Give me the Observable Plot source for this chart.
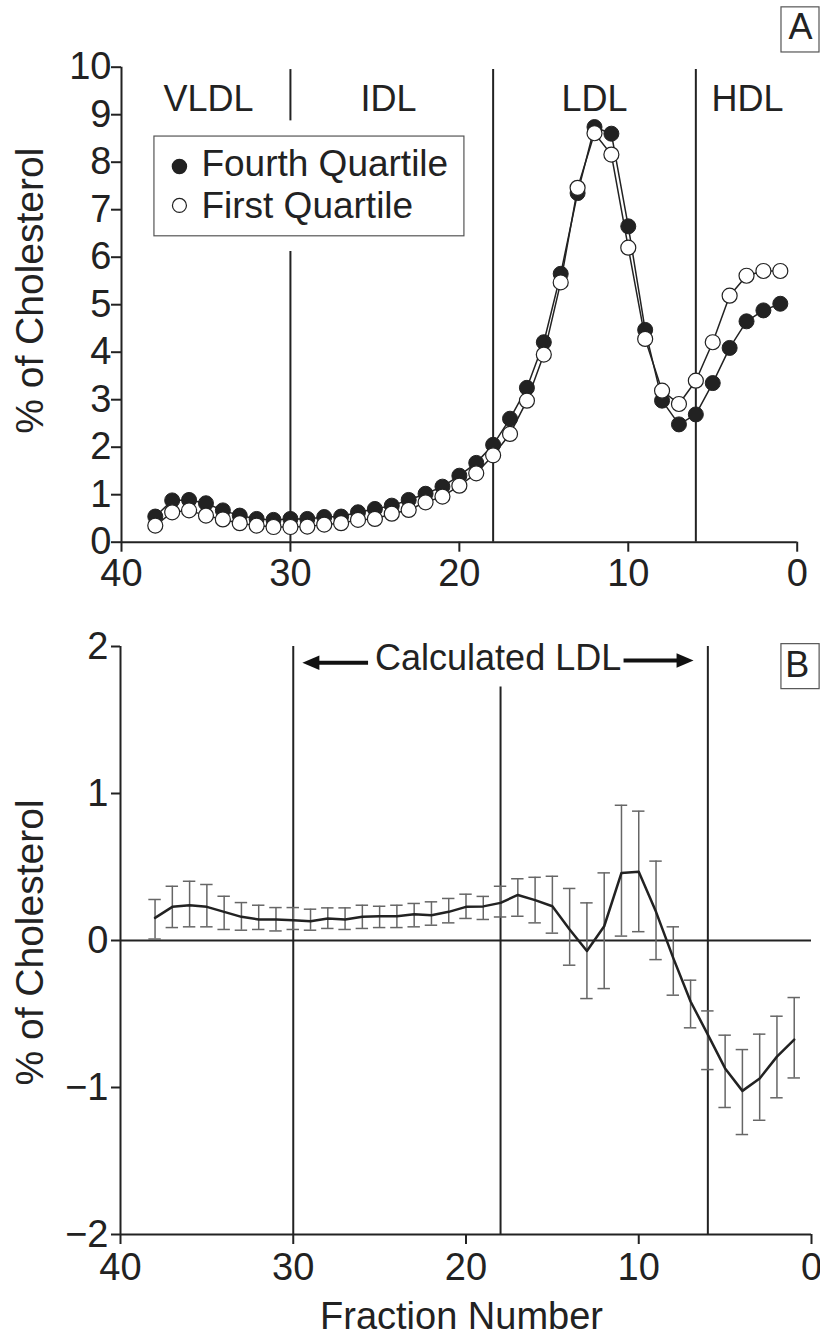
<!DOCTYPE html>
<html><head><meta charset="utf-8">
<script src="https://cdn.jsdelivr.net/npm/d3@7"></script>
<script src="https://cdn.jsdelivr.net/npm/@observablehq/plot@0.6"></script>
<style>
body{margin:0;background:#fff;}
#chart{width:820px;}
#chart svg{display:block;}
</style></head><body><div id="chart"></div>
<script>
// ---------- data ----------
const fractions = [38,37,36,35,34,33,32,31,30,29,28,27,26,25,24,23,22,21,20,19,18,17,16,15,14,13,12,11,10,9,8,7,6,5,4,3,2,1];
const fourthQuartile = [0.54,0.88,0.89,0.82,0.67,0.56,0.49,0.47,0.49,0.49,0.53,0.54,0.63,0.70,0.77,0.89,1.02,1.17,1.40,1.67,2.05,2.60,3.25,4.21,5.65,7.35,8.74,8.60,6.65,4.47,2.98,2.48,2.69,3.35,4.09,4.65,4.88,5.02];
const firstQuartile = [0.35,0.63,0.67,0.56,0.48,0.40,0.35,0.32,0.32,0.33,0.37,0.40,0.47,0.49,0.60,0.68,0.84,0.96,1.19,1.45,1.83,2.28,2.98,3.95,5.47,7.46,8.61,8.16,6.20,4.28,3.19,2.91,3.40,4.21,5.19,5.61,5.71,5.71];
const diffMean = [0.154,0.229,0.240,0.229,0.195,0.161,0.143,0.143,0.138,0.131,0.150,0.143,0.161,0.165,0.165,0.179,0.172,0.195,0.229,0.232,0.256,0.310,0.275,0.233,0.075,-0.071,0.097,0.460,0.467,0.195,-0.120,-0.415,-0.640,-0.870,-1.023,-0.939,-0.790,-0.674];
const diffLow  = [0.010,0.088,0.093,0.093,0.075,0.070,0.075,0.065,0.075,0.070,0.082,0.075,0.082,0.088,0.088,0.093,0.104,0.120,0.150,0.143,0.160,0.165,0.120,0.050,-0.168,-0.395,-0.327,0.030,0.060,-0.130,-0.372,-0.594,-0.878,-1.136,-1.320,-1.223,-1.070,-0.935];
const diffHigh = [0.279,0.369,0.403,0.381,0.301,0.258,0.240,0.224,0.224,0.213,0.222,0.222,0.240,0.233,0.240,0.252,0.263,0.286,0.315,0.300,0.369,0.420,0.430,0.437,0.354,0.256,0.460,0.920,0.880,0.540,0.093,-0.270,-0.479,-0.644,-0.742,-0.637,-0.515,-0.388];
const xTicks = [40,30,20,10,0];
const yTicksA = [0,1,2,3,4,5,6,7,8,9,10];
const yTicksB = [-2,-1,0,1,2];
const regionLabels = ["VLDL","IDL","LDL","HDL"];
const regionCenters = [34.85,24.2,12.0,2.94];
const boundaries = [30,18,6];
const seriesNames = ["Fourth Quartile","First Quartile"];

// ---------- tables ----------
const tableA = fractions.map((f,i)=>({x:f, fourth:fourthQuartile[i], first:firstQuartile[i]}));
const tableB = fractions.map((f,i)=>({x:f, mean:diffMean[i], lo:diffLow[i], hi:diffHigh[i]}));

const INK = "#222";
const FONT = "'Liberation Sans', Arial, Helvetica, sans-serif";
const fmt = d => d < 0 ? "\u2212" + Math.abs(d) : String(d);

// ---------- Panel A ----------
const plotA = Plot.plot({
  width: 820, height: 612,
  marginLeft: 121, marginRight: 23.3, marginTop: 66.7, marginBottom: 70.3,
  style: {fontFamily: FONT, fontSize: "38px", color: INK, background: "white", overflow: "visible"},
  x: {domain: [40, 0]},
  y: {domain: [0, 10]},
  marks: [
    // region boundaries
    Plot.ruleX([boundaries[1], boundaries[2]], {y1: 0, y2: 9.95, stroke: INK, strokeWidth: 2}),
    Plot.ruleX([boundaries[0]], {y1: 0, y2: 6.12, stroke: INK, strokeWidth: 2}),
    Plot.ruleX([boundaries[0]], {y1: 8.87, y2: 9.95, stroke: INK, strokeWidth: 2}),
    Plot.text(regionLabels, {x: (d,i)=>regionCenters[i], y: 9.32, text: d=>d, fill: INK, fontSize: 36}),
    // legend
    Plot.rect([0], {x1: 38.05, x2: 19.7, y1: 6.44, y2: 8.54, fill: "white", stroke: "#555", strokeWidth: 1.2}),
    Plot.dot([seriesNames[0]], {x: 36.57, y: 7.91, r: 7, fill: INK, stroke: INK}),
    Plot.dot([seriesNames[1]], {x: 36.57, y: 7.09, r: 7, fill: "white", stroke: INK, strokeWidth: 1.2}),
    Plot.text(seriesNames, {x: 35.27, y: (d,i)=> i===0 ? 7.95 : 7.08, text: d=>d, textAnchor: "start", fill: INK, fontSize: 37}),
    // series
    Plot.line(tableA, {x: "x", y: "fourth", stroke: INK, strokeWidth: 1.5}),
    Plot.dot(tableA, {x: "x", y: "fourth", r: 7.5, fill: INK, stroke: INK, strokeWidth: 1}),
    Plot.line(tableA, {x: "x", y: "first", stroke: INK, strokeWidth: 1.5}),
    Plot.dot(tableA, {x: "x", y: "first", r: 7.5, fill: "white", stroke: INK, strokeWidth: 1.2}),
    // axes
    Plot.ruleX([40], {stroke: INK, strokeWidth: 2}),
    Plot.ruleY([0], {stroke: INK, strokeWidth: 2}),
    Plot.axisX({ticks: xTicks, tickFormat: fmt, tickSize: 10, tickPadding: 7, strokeWidth: 2, stroke: INK, fill: INK, label: null}),
    Plot.axisY({ticks: yTicksA, tickFormat: fmt, tickSize: 10, tickPadding: 0, strokeWidth: 2, stroke: INK, fill: INK, label: null}),
    Plot.text(["% of Cholesterol"], {frameAnchor: "left", textAnchor: "middle", lineAnchor: "middle", dx: -90.5, dy: -14, rotate: -90, fill: INK, fontSize: 39}),
    // panel tag
    Plot.rect(["A"], {x1: 0.93, x2: -1.32, y1: 10.31, y2: 11.26, fill: "white", stroke: "#555", strokeWidth: 1.2}),
    Plot.text(["A"], {x: -0.2, y: 10.83, fill: INK, fontSize: 36})
  ]
});

// ---------- Panel B ----------
const arrowRight = {draw(ctx, size){const r = Math.sqrt(size/Math.PI); ctx.moveTo(r,0); ctx.lineTo(-r,-r*0.85); ctx.lineTo(-r,r*0.85); ctx.closePath();}};
const arrowLeft = {draw(ctx, size){const r = Math.sqrt(size/Math.PI); ctx.moveTo(-r,0); ctx.lineTo(r,-r*0.85); ctx.lineTo(r,r*0.85); ctx.closePath();}};

const plotB = Plot.plot({
  width: 820, height: 723,
  marginLeft: 120, marginRight: 9, marginTop: 34, marginBottom: 101,
  style: {fontFamily: FONT, fontSize: "38px", color: INK, background: "white", overflow: "visible"},
  x: {domain: [40, 0]},
  y: {domain: [-2, 2]},
  marks: [
    Plot.ruleX([boundaries[0], boundaries[2]], {stroke: INK, strokeWidth: 2}),
    Plot.ruleX([boundaries[1]], {y1: -2, y2: 1.725, stroke: INK, strokeWidth: 2}),
    Plot.ruleY([0], {stroke: INK, strokeWidth: 2}),
    // error bars
    Plot.ruleX(tableB, {x: "x", y1: "lo", y2: "hi", stroke: "#666", strokeWidth: 1.5}),
    Plot.ruleY(tableB, {y: "lo", x1: d=>d.x+0.36, x2: d=>d.x-0.36, stroke: "#666", strokeWidth: 1.5}),
    Plot.ruleY(tableB, {y: "hi", x1: d=>d.x+0.36, x2: d=>d.x-0.36, stroke: "#666", strokeWidth: 1.5}),
    Plot.line(tableB, {x: "x", y: "mean", stroke: INK, strokeWidth: 2.5}),
    // calculated LDL annotation
    Plot.text(["Calculated LDL"], {x: 18.14, y: 1.92, fill: INK, fontSize: 36}),
    Plot.link([0], {x1: 28.6, x2: 25.67, y1: 1.89, y2: 1.89, stroke: "#111", strokeWidth: 4}),
    Plot.link([0], {x1: 10.88, x2: 7.7, y1: 1.905, y2: 1.905, stroke: "#111", strokeWidth: 4}),
    Plot.dot([0], {x: 28.98, y: 1.89, r: 8.5, symbol: arrowLeft, fill: "#111", stroke: "none"}),
    Plot.dot([0], {x: 7.32, y: 1.905, r: 8.5, symbol: arrowRight, fill: "#111", stroke: "none"}),
    // axes
    Plot.ruleX([40], {stroke: INK, strokeWidth: 2}),
    Plot.ruleY([-2], {stroke: INK, strokeWidth: 2}),
    Plot.axisX({ticks: xTicks, tickFormat: fmt, tickSize: 10, tickPadding: 9, strokeWidth: 2, stroke: INK, fill: INK, label: null}),
    Plot.axisY({ticks: yTicksB, tickFormat: fmt, tickSize: 9, tickPadding: 3, strokeWidth: 2, stroke: INK, fill: INK, label: null}),
    Plot.text(["% of Cholesterol"], {frameAnchor: "left", textAnchor: "middle", lineAnchor: "middle", dx: -89.5, dy: 2, rotate: -90, fill: INK, fontSize: 39}),
    Plot.text(["Fraction Number"], {frameAnchor: "bottom", textAnchor: "middle", lineAnchor: "middle", dx: -4.5, dy: 82, fill: INK, fontSize: 38}),
    // panel tag
    Plot.rect(["B"], {x1: 1.74, x2: -0.47, y1: 1.71, y2: 2.016, fill: "white", stroke: "#555", strokeWidth: 1.2}),
    Plot.text(["B"], {x: 0.83, y: 1.87, fill: INK, fontSize: 36})
  ]
});

const root = document.getElementById("chart");
root.appendChild(plotA);
root.appendChild(plotB);
</script>
</body></html>
